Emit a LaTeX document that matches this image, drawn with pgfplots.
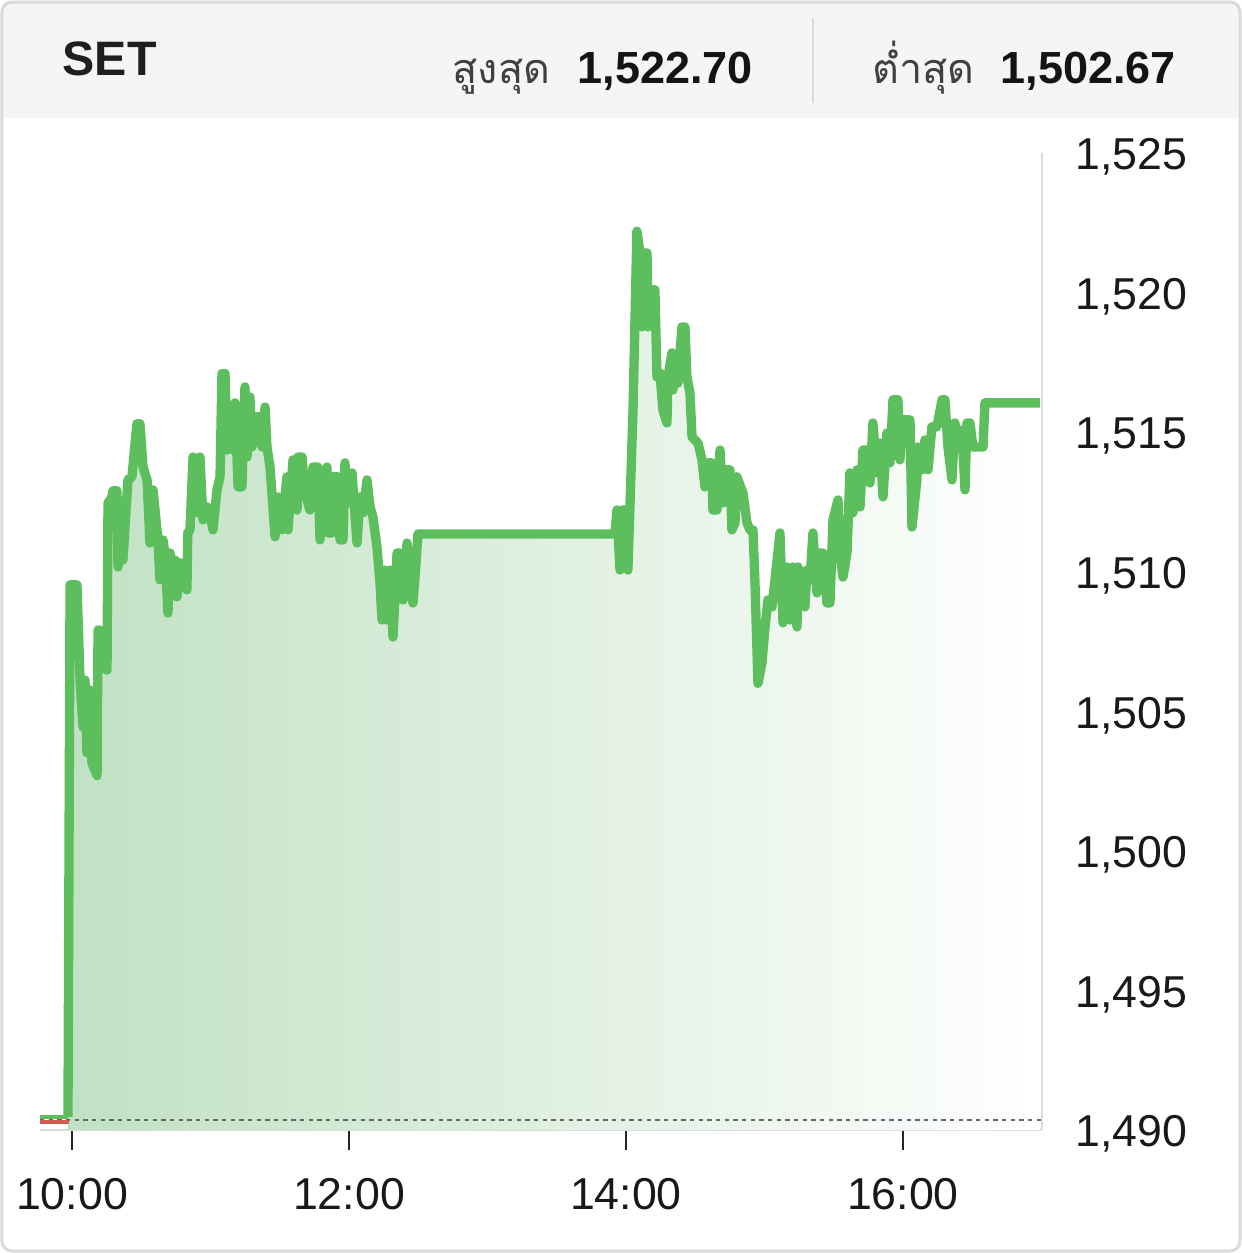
\documentclass[border=0pt]{standalone}
\usepackage{pgfplots}
\pgfplotsset{compat=1.18}
\usepackage{pgfplotstable}
\usepackage{fontspec}
\setmainfont{Liberation Sans}
\newfontfamily\thaifont[Script=Thai]{Loma}
\definecolor{lineg}{RGB}{92,190,92}
\definecolor{fillg}{RGB}{192,225,195}
\definecolor{hdr}{RGB}{245,245,245}
\definecolor{brd}{RGB}{218,218,218}

\pgfplotstableread{
t v
9.971 1490.47
9.986 1509.53
10.036 1509.53
10.058 1506.12
10.079 1504.44
10.094 1506.12
10.108 1503.51
10.130 1505.76
10.144 1503.15
10.181 1502.70
10.188 1507.91
10.202 1507.91
10.217 1506.59
10.253 1506.48
10.260 1512.46
10.289 1512.68
10.296 1512.90
10.325 1512.90
10.332 1510.17
10.361 1511.50
10.368 1510.42
10.404 1513.29
10.433 1513.40
10.469 1515.30
10.491 1515.30
10.513 1513.75
10.542 1513.29
10.563 1511.03
10.585 1512.93
10.621 1511.14
10.635 1509.71
10.657 1511.14
10.671 1510.67
10.693 1508.52
10.708 1510.67
10.729 1509.46
10.744 1510.42
10.758 1509.10
10.780 1510.32
10.830 1509.35
10.836 1511.39
10.852 1511.50
10.874 1514.11
10.903 1512.11
10.924 1514.11
10.946 1511.86
10.975 1512.32
10.996 1512.11
11.018 1511.50
11.047 1512.93
11.069 1513.40
11.083 1517.10
11.105 1517.10
11.119 1514.36
11.141 1515.69
11.162 1514.36
11.177 1516.05
11.199 1513.04
11.227 1513.04
11.249 1516.62
11.264 1514.11
11.285 1516.26
11.300 1514.47
11.321 1515.55
11.357 1515.55
11.372 1514.47
11.394 1515.90
11.408 1514.47
11.430 1513.75
11.466 1511.25
11.488 1512.68
11.516 1511.50
11.552 1513.40
11.560 1511.50
11.596 1514.01
11.625 1512.21
11.632 1514.11
11.661 1514.11
11.682 1512.82
11.718 1512.21
11.740 1513.75
11.776 1513.75
11.791 1511.14
11.812 1512.57
11.841 1513.75
11.848 1511.39
11.877 1511.39
11.884 1513.40
11.921 1513.40
11.935 1511.14
11.957 1511.14
11.971 1513.90
11.993 1512.46
12.022 1513.54
12.058 1511.03
12.079 1512.68
12.101 1512.11
12.130 1513.29
12.152 1512.32
12.173 1511.96
12.202 1510.89
12.224 1509.60
12.238 1508.27
12.260 1510.06
12.274 1508.27
12.296 1510.06
12.318 1507.66
12.347 1510.67
12.368 1510.67
12.390 1508.99
12.419 1511.03
12.440 1509.60
12.462 1508.88
12.477 1509.81
12.498 1511.35
13.921 1511.35
13.935 1512.21
13.957 1510.06
13.971 1512.21
13.993 1512.21
14.007 1510.17
14.014 1510.06
14.051 1515.80
14.079 1522.20
14.101 1521.42
14.116 1518.77
14.123 1521.42
14.152 1521.42
14.159 1518.77
14.173 1520.10
14.209 1520.10
14.224 1516.98
14.245 1517.12
14.267 1515.80
14.296 1515.33
14.303 1516.98
14.332 1517.84
14.339 1516.51
14.368 1517.48
14.375 1516.76
14.404 1518.77
14.426 1518.77
14.440 1516.98
14.462 1516.41
14.477 1514.83
14.498 1514.72
14.520 1514.61
14.549 1514.01
14.570 1513.04
14.592 1513.90
14.621 1513.90
14.628 1512.21
14.657 1512.21
14.679 1514.36
14.700 1512.46
14.715 1513.65
14.751 1513.65
14.765 1511.50
14.787 1511.75
14.801 1513.40
14.845 1512.82
14.874 1511.75
14.895 1511.50
14.917 1511.50
14.931 1509.71
14.953 1506.00
14.982 1506.73
15.004 1508.02
15.025 1508.99
15.054 1508.74
15.076 1509.71
15.112 1511.39
15.134 1508.17
15.162 1510.17
15.184 1508.27
15.206 1510.17
15.235 1508.02
15.242 1510.17
15.271 1509.46
15.292 1508.74
15.307 1510.06
15.329 1509.71
15.350 1511.39
15.379 1509.24
15.401 1510.67
15.422 1510.67
15.451 1508.88
15.473 1508.88
15.495 1511.86
15.531 1512.57
15.545 1510.67
15.567 1509.81
15.596 1510.67
15.617 1513.54
15.639 1512.11
15.668 1513.65
15.690 1512.32
15.711 1514.36
15.747 1514.36
15.762 1513.18
15.783 1515.33
15.812 1513.54
15.834 1514.61
15.856 1512.68
15.884 1514.97
15.906 1513.90
15.928 1516.16
15.964 1516.16
15.978 1514.01
16.000 1515.44
16.051 1515.44
16.065 1511.60
16.101 1513.29
16.108 1514.47
16.137 1513.65
16.159 1514.72
16.181 1513.65
16.209 1515.19
16.245 1515.19
16.282 1516.16
16.303 1516.16
16.325 1514.47
16.354 1513.29
16.375 1515.33
16.397 1514.47
16.426 1515.08
16.448 1512.93
16.462 1515.33
16.484 1515.33
16.505 1514.47
16.578 1514.47
16.592 1516.05
16.989 1516.05
}\setdata

\begin{document}
\begin{tikzpicture}
\begin{scope}[x=0.3pt,y=-0.3pt]
\fill[white] (0,0) rectangle (1242,1253);
\fill[hdr] (3,3) rectangle (1239,118);
\draw[brd, line width=0.9pt, rounded corners=3pt] (2,2) rectangle (1240,1251);
\draw[brd, line width=0.6pt] (813,18) -- (813,103);
\node[anchor=base west, inner sep=0pt, text=black!88] at (62,75) {\fontsize{14.5}{17}\selectfont\bfseries SET};
\node[anchor=base west, inner sep=0pt, text=black!75] at (452,83) {\fontsize{12.4}{15}\selectfont\thaifont สูงสุด};
\node[anchor=base west, inner sep=0pt, text=black!92] at (577,83) {\fontsize{13.5}{16}\selectfont\bfseries 1,522.70};
\node[anchor=base west, inner sep=0pt, text=black!75] at (872,83) {\fontsize{12.4}{15}\selectfont\thaifont ต่ำสุด};
\node[anchor=base west, inner sep=0pt, text=black!92] at (1000,83) {\fontsize{13.5}{16}\selectfont\bfseries 1,502.67};
\end{scope}
\begin{axis}[
  at={(12pt,-339pt)}, anchor=south west,
  scale only axis, width=300.6pt, height=293.1pt,
  xmin=9.769, xmax=17.004, ymin=1490, ymax=1525,
  axis x line*=bottom, axis y line*=right,
  axis line style={-, draw=black!14, line width=0.6pt},
  xtick={10,12,14,16}, xticklabels={10:00,12:00,14:00,16:00},
  xtick align=outside, major tick length=6pt,
  xtick style={draw=black!85, line width=0.45pt},
  ytick={1490,1495,...,1525},
  ytick style={draw=none},
  yticklabel pos=right,
  /pgf/number format/assume math mode=true,
  /pgf/number format/1000 sep={,},
  yticklabel style={anchor=west, inner sep=0pt, xshift=9.9pt, yshift=-1.2pt, font=\fontsize{13.4}{16}\selectfont, text=black!90},
  xticklabel style={anchor=north, inner sep=0pt, yshift=-8.4pt, font=\fontsize{13.4}{16}\selectfont, text=black!90},
  clip=false,
]
\addplot[draw=none, left color=fillg, right color=white, shading=axis] table[x=t,y=v] {\setdata} -- (16.989,1490) -- (9.971,1490) -- cycle;
\addplot[black!60, line width=0.45pt, dash pattern=on 1.3pt off 1.3pt] coordinates {(9.769,1490.36) (17.004,1490.36)};
\addplot[color={rgb,255:red,214;green,90;blue,80}, line width=1.2pt] coordinates {(9.769,1490.30) (9.975,1490.30)};
\addplot[lineg, line width=1.2pt] coordinates {(9.769,1490.47) (9.971,1490.47)};
\addplot[lineg, line width=2.8pt, line join=round] table[x=t,y=v] {\setdata};
\end{axis}
\end{tikzpicture}
\end{document}
